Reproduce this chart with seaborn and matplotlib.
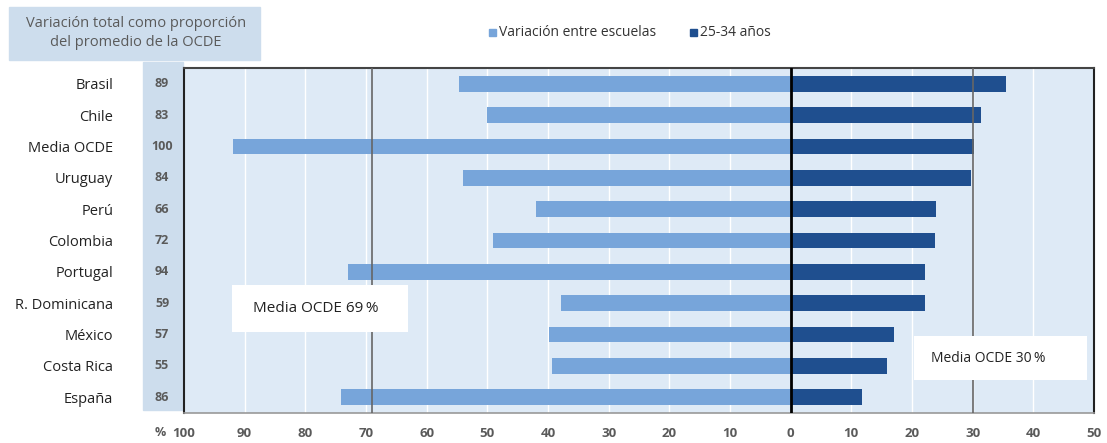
import numpy as np
import pandas as pd
import matplotlib
matplotlib.use("Agg")
import matplotlib.pyplot as plt
import seaborn as sns
from matplotlib.patches import Rectangle
from matplotlib.transforms import blended_transform_factory

countries = ["Brasil", "Chile", "Media OCDE", "Uruguay", "Perú", "Colombia",
             "Portugal", "R. Dominicana", "México", "Costa Rica", "España"]
total_var = [89, 83, 100, 84, 66, 72, 94, 59, 57, 55, 86]
between_schools = [54.6, 50.0, 92.0, 54.0, 41.9, 49.0, 72.9, 37.8, 39.8, 39.3, 74.2]
age_25_34 = [35.5, 31.3, 30.2, 29.8, 24.0, 23.8, 22.2, 22.1, 17.0, 15.8, 11.7]
oecd_left = 69
oecd_right = 30

LIGHT = "#77a5da"
DARK = "#1f4f8f"
BG = "#deeaf6"
STRIP = "#cddded"
GREY = "#5a5a5a"

sns.set_style("white")
plt.rcParams["font.family"] = ["Open Sans", "DejaVu Sans"]

df = pd.DataFrame({"country": countries,
                   "left": [-v for v in between_schools],
                   "right": age_25_34})

fig = plt.figure(figsize=(11.07, 4.43), dpi=100)
ax = fig.add_axes([184 / 1107, 1 - 413 / 443, (1094 - 184) / 1107, (413 - 68) / 443])
ax.set_facecolor(BG)

sns.barplot(data=df, x="left", y="country", color=LIGHT, width=0.5,
            saturation=1, linewidth=0, ax=ax, zorder=3)
sns.barplot(data=df, x="right", y="country", color=DARK, width=0.5,
            saturation=1, linewidth=0, ax=ax, zorder=3)

ax.set_xlim(-100, 50)
ax.set_ylim(len(countries) - 0.5, -0.5)
xt = np.arange(-100, 51, 10)
ax.set_xticks(xt)
ax.set_xticklabels([str(abs(v)) for v in xt], fontsize=9.5, color=GREY,
                   fontweight="bold")
ax.tick_params(axis="x", direction="out", length=5, color="#999999", pad=5)
for v in xt[1:-1]:
    if v != 0:
        ax.axvline(v, color="white", lw=1, zorder=1)
ax.axvline(0, color="black", lw=2, zorder=4)
ax.axvline(-oecd_left, color="#666666", lw=1.2, zorder=4)
ax.axvline(oecd_right, color="#666666", lw=1.2, zorder=4)

ax.set_yticks(range(len(countries)))
ax.set_yticklabels(countries, fontsize=10.5, color="#222222")
ax.tick_params(axis="y", length=0, pad=51)
ax.set_xlabel("")
ax.set_ylabel("")

for side in ["left", "right"]:
    ax.spines[side].set_color("#222222")
    ax.spines[side].set_linewidth(1.5)
ax.spines["top"].set_color("#444444")
ax.spines["top"].set_linewidth(1.5)
ax.spines["bottom"].set_color("#999999")
ax.spines["bottom"].set_linewidth(1.2)

# number column strip
fig.patches.append(Rectangle((143 / 1107, 1 - 410 / 443), (183 - 143) / 1107,
                             (410 - 62) / 443, transform=fig.transFigure,
                             color=STRIP, zorder=-1))
trans = blended_transform_factory(fig.transFigure, ax.transData)
for i, v in enumerate(total_var):
    ax.text(162 / 1107, i, str(v), transform=trans, ha="center", va="center",
            fontsize=9, color=GREY, fontweight="bold")
fig.text(160 / 1107, 1 - 433 / 443, "%", ha="center", va="center",
         fontsize=9, color=GREY, fontweight="bold")

# header box
fig.patches.append(Rectangle((9 / 1107, 1 - 60 / 443), (260 - 9) / 1107,
                             (60 - 7) / 443, transform=fig.transFigure,
                             color=STRIP, zorder=-1))
fig.text(136 / 1107, 1 - 33 / 443,
         "Variación total como proporción\ndel promedio de la OCDE",
         ha="center", va="center", fontsize=10.5, color=GREY, linespacing=1.3)

# legend
fig.patches.append(Rectangle((489 / 1107, 1 - 36 / 443), 7 / 1107, 7 / 443,
                             transform=fig.transFigure, color=LIGHT))
fig.text(499 / 1107, 1 - 32 / 443, "Variación entre escuelas", ha="left",
         va="center", fontsize=10, color="#333333")
fig.patches.append(Rectangle((690 / 1107, 1 - 36 / 443), 7 / 1107, 7 / 443,
                             transform=fig.transFigure, color=DARK))
fig.text(700 / 1107, 1 - 32 / 443, "25-34 años", ha="left",
         va="center", fontsize=10, color="#333333")

# annotation boxes
ax.add_patch(Rectangle((-92.1, 6.43), 29.0, 1.5, facecolor="white",
                       edgecolor="none", zorder=5))
ax.text(-88.7, 7.18, f"Media OCDE {oecd_left}\u2009%", ha="left", va="center",
        fontsize=11, color="#222222", zorder=6)
ax.add_patch(Rectangle((20.3, 8.06), 28.5, 1.4, facecolor="white",
                       edgecolor="none", zorder=5))
ax.text(23.2, 8.76, f"Media OCDE {oecd_right}\u2009%", ha="left", va="center",
        fontsize=10, color="#222222", zorder=6)

fig.savefig("out.png", dpi=100)
